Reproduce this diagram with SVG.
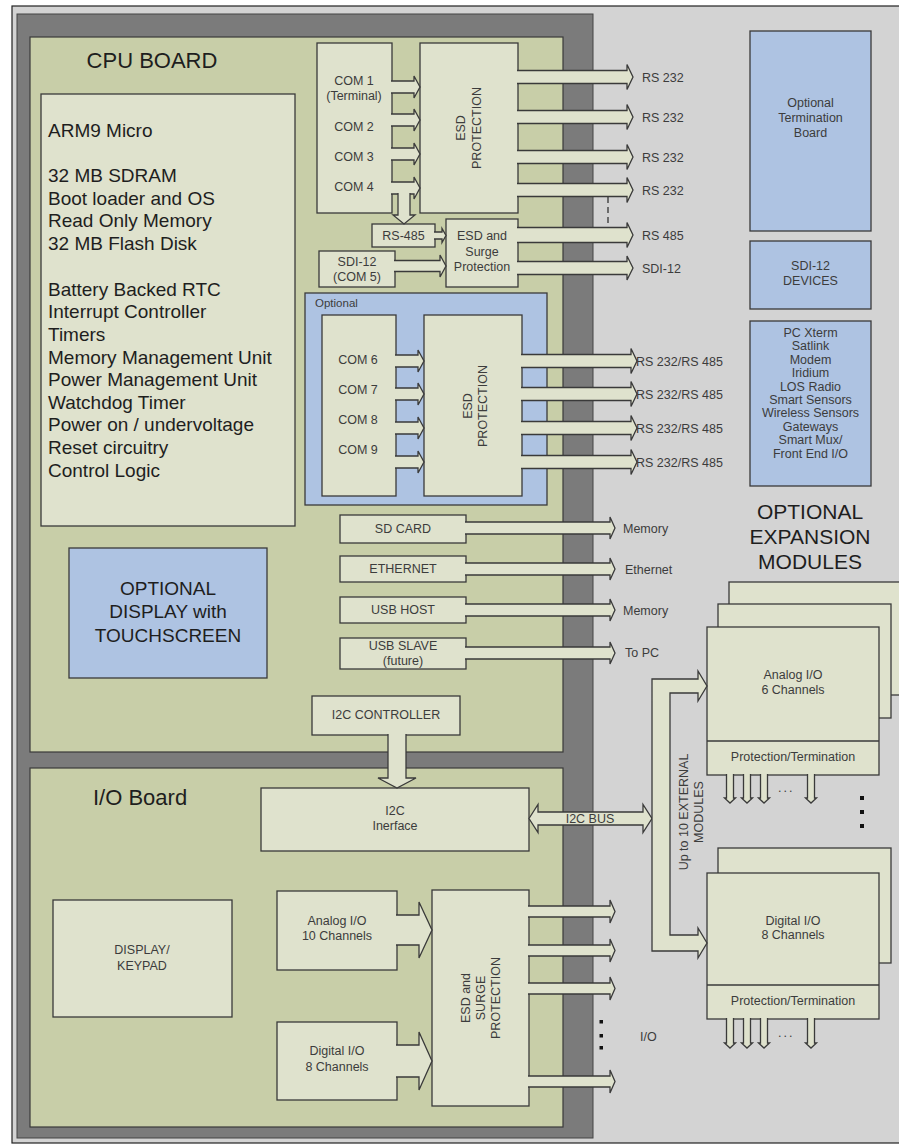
<svg xmlns="http://www.w3.org/2000/svg" width="899" height="1144" viewBox="0 0 899 1144">
<style>
.board{fill:#c8cea8;stroke:#3a3a3a;stroke-width:1.2}
.box{fill:#dfe2cd;stroke:#3a3a3a;stroke-width:1.3}
.blue{fill:#aec3e2;stroke:#3a3a3a;stroke-width:1.3}
.arr{fill:#dfe2cd;stroke:#3a3a3a;stroke-width:1.3;stroke-linejoin:miter}
.t{font-family:"Liberation Sans",Arial,sans-serif;fill:#3c3c3c;font-size:12.5px}
.m{text-anchor:middle}
.big{font-size:19px;fill:#1e1e1e}
.h{font-size:22px;fill:#1e1e1e}
.dot{fill:#111}
</style>
<rect x="0" y="0" width="899" height="1144" fill="#ffffff"/>
<rect x="12" y="6" width="900" height="1137" fill="#d3d3d3" stroke="#222" stroke-width="1.2"/>
<rect x="17" y="14" width="576" height="1124" fill="#7b7b7b" stroke="#444" stroke-width="1"/>

<g id="cpu-board">
<rect class="board" x="30" y="37" width="533" height="715"/>
<text class="t h m" x="152" y="68">CPU BOARD</text>
</g>
<g id="io-board">
<rect class="board" x="30" y="768" width="533" height="359"/>
<text class="t h" x="93" y="805">I/O Board</text>
</g>

<g id="cpu-spec">
<rect class="box" x="41" y="94" width="254" height="432"/>
<text class="t big" x="48" y="137">ARM9 Micro</text>
<text class="t big" x="48" y="182">32 MB SDRAM</text>
<text class="t big" x="48" y="205">Boot loader and OS</text>
<text class="t big" x="48" y="227">Read Only Memory</text>
<text class="t big" x="48" y="250">32 MB Flash Disk</text>
<text class="t big" x="48" y="296">Battery Backed RTC</text>
<text class="t big" x="48" y="318">Interrupt Controller</text>
<text class="t big" x="48" y="341">Timers</text>
<text class="t big" x="48" y="364">Memory Management Unit</text>
<text class="t big" x="48" y="386">Power Management Unit</text>
<text class="t big" x="48" y="409">Watchdog Timer</text>
<text class="t big" x="48" y="431">Power on / undervoltage</text>
<text class="t big" x="48" y="454">Reset circuitry</text>
<text class="t big" x="48" y="477">Control Logic</text>
</g>

<g id="optional-display">
<rect class="blue" x="69" y="548" width="198" height="130"/>
<text class="t big m" x="168" y="595">OPTIONAL</text>
<text class="t big m" x="168" y="618">DISPLAY with</text>
<text class="t big m" x="168" y="642">TOUCHSCREEN</text>
</g>

<g id="com1-4">
<rect class="box" x="317" y="43" width="75" height="170"/>
<text class="t m" x="354" y="85">COM 1</text>
<text class="t m" x="354" y="100">(Terminal)</text>
<text class="t m" x="354" y="131">COM 2</text>
<text class="t m" x="354" y="161">COM 3</text>
<text class="t m" x="354" y="191">COM 4</text>
</g>
<g id="esd1">
<rect class="box" x="420" y="43" width="98" height="170"/>
<text class="t m" transform="translate(465,128) rotate(-90)"><tspan x="0" y="0">ESD</tspan><tspan x="0" y="16">PROTECTION</tspan></text>
</g>
<g id="rs485">
<rect class="box" x="372" y="224" width="63" height="23"/>
<text class="t m" x="403.5" y="240">RS-485</text>
</g>
<g id="esd-surge1">
<rect class="box" x="446" y="219" width="72" height="68"/>
<text class="t m" x="482" y="240">ESD and</text>
<text class="t m" x="482" y="256">Surge</text>
<text class="t m" x="482" y="271">Protection</text>
</g>
<g id="sdi12">
<rect class="box" x="319" y="251" width="76" height="36"/>
<text class="t m" x="357" y="265.5">SDI-12</text>
<text class="t m" x="357" y="281">(COM 5)</text>
</g>

<g id="optional-com">
<rect class="blue" x="305" y="293" width="242" height="212"/>
<text class="t" x="315" y="307" style="font-size:11.5px">Optional</text>
</g>
<g id="com6-9">
<rect class="box" x="322" y="315" width="74" height="181"/>
<text class="t m" x="358" y="364">COM 6</text>
<text class="t m" x="358" y="394">COM 7</text>
<text class="t m" x="358" y="424">COM 8</text>
<text class="t m" x="358" y="454">COM 9</text>
</g>
<g id="esd2">
<rect class="box" x="424" y="315" width="98" height="181"/>
<text class="t m" transform="translate(472,406) rotate(-90)"><tspan x="0" y="0">ESD</tspan><tspan x="0" y="15">PROTECTION</tspan></text>
</g>

<g id="sdcard"><rect class="box" x="340" y="515" width="126" height="28"/><text class="t m" x="403" y="533">SD CARD</text></g>
<g id="ethernet"><rect class="box" x="340" y="556" width="126" height="26"/><text class="t m" x="403" y="573">ETHERNET</text></g>
<g id="usbhost"><rect class="box" x="340" y="597" width="126" height="26"/><text class="t m" x="403" y="614">USB HOST</text></g>
<g id="usbslave"><rect class="box" x="340" y="638" width="126" height="31"/><text class="t m" x="403" y="650">USB SLAVE</text><text class="t m" x="403" y="665">(future)</text></g>

<g id="i2c-controller"><rect class="box" x="312" y="696" width="148" height="39"/><text class="t m" x="386" y="719">I2C CONTROLLER</text></g>
<g id="i2c-interface"><rect class="box" x="261" y="788" width="268" height="63"/><text class="t m" x="395" y="815">I2C</text><text class="t m" x="395" y="830">Inerface</text></g>

<g id="display-keypad"><rect class="box" x="53" y="900" width="179" height="117"/><text class="t m" x="142" y="954">DISPLAY/</text><text class="t m" x="142" y="970">KEYPAD</text></g>
<g id="analog-io"><rect class="box" x="277" y="891" width="120" height="79"/><text class="t m" x="337" y="925">Analog I/O</text><text class="t m" x="337" y="940">10 Channels</text></g>
<g id="digital-io"><rect class="box" x="277" y="1022" width="120" height="78"/><text class="t m" x="337" y="1055">Digital I/O</text><text class="t m" x="337" y="1071">8 Channels</text></g>
<g id="esd-surge2">
<rect class="box" x="432" y="890" width="97" height="216"/>
<text class="t m" transform="translate(470,998) rotate(-90)"><tspan x="0" y="0">ESD and</tspan><tspan x="0" y="15">SURGE</tspan><tspan x="0" y="30">PROTECTION</tspan></text>
</g>

<g id="termination-board"><rect class="blue" x="750" y="31" width="121" height="200"/><text class="t m" x="810.5" y="107">Optional</text><text class="t m" x="810.5" y="122">Termination</text><text class="t m" x="810.5" y="137">Board</text></g>
<g id="sdi12-devices"><rect class="blue" x="750" y="241" width="121" height="68"/><text class="t m" x="810.5" y="270">SDI-12</text><text class="t m" x="810.5" y="285">DEVICES</text></g>
<g id="devices-list"><rect class="blue" x="750" y="321" width="121" height="165"/>
<text class="t m" x="810.5" y="337">PC Xterm</text>
<text class="t m" x="810.5" y="350.4">Satlink</text>
<text class="t m" x="810.5" y="363.8">Modem</text>
<text class="t m" x="810.5" y="377.2">Iridium</text>
<text class="t m" x="810.5" y="390.6">LOS Radio</text>
<text class="t m" x="810.5" y="404">Smart Sensors</text>
<text class="t m" x="810.5" y="417.4">Wireless Sensors</text>
<text class="t m" x="810.5" y="430.8">Gateways</text>
<text class="t m" x="810.5" y="444.2">Smart Mux/</text>
<text class="t m" x="810.5" y="457.6">Front End I/O</text>
</g>
<g id="expansion-title">
<text class="t m" x="810" y="519" style="font-size:21px;fill:#1e1e1e">OPTIONAL</text>
<text class="t m" x="810" y="544" style="font-size:21px;fill:#1e1e1e">EXPANSION</text>
<text class="t m" x="810" y="569" style="font-size:21px;fill:#1e1e1e">MODULES</text>
</g>

<g id="analog-module">
<rect class="box" x="729" y="582" width="190" height="113"/>
<rect class="box" x="718" y="604" width="173" height="114"/>
<rect class="box" x="707" y="627" width="172" height="148"/>
<line x1="707" y1="741" x2="879" y2="741" stroke="#3a3a3a" stroke-width="1.3"/>
<text class="t m" x="793" y="679">Analog I/O</text>
<text class="t m" x="793" y="694">6 Channels</text>
<text class="t m" x="793" y="761">Protection/Termination</text>
</g>
<g id="digital-module">
<rect class="box" x="718" y="848" width="173" height="115"/>
<rect class="box" x="707" y="873" width="172" height="146"/>
<line x1="707" y1="985" x2="879" y2="985" stroke="#3a3a3a" stroke-width="1.3"/>
<text class="t m" x="793" y="925">Digital I/O</text>
<text class="t m" x="793" y="939">8 Channels</text>
<text class="t m" x="793" y="1005">Protection/Termination</text>
</g>

<g id="connectors">
<!-- COM 1-4 to ESD -->
<path class="arr" d="M391,81 H414 V76 L420,87 L414,98 V93 H391"/>
<path class="arr" d="M391,114 H414 V109 L420,120 L414,131 V126 H391"/>
<path class="arr" d="M391,148 H414 V143 L420,154 L414,165 V160 H391"/>
<path class="arr" d="M391,182 H414 V177 L420,188 L414,199 V194 H391"/>
<path class="arr" d="M398,193 V215 H393 L404,224 L415,215 H410 V193"/>
<!-- ESD outputs -->
<path class="arr" d="M517,70.5 H627 V64.5 L633,77 L627,89.5 V83.5 H517"/>
<path class="arr" d="M517,110.5 H627 V104.5 L633,117 L627,129.5 V123.5 H517"/>
<path class="arr" d="M517,150.5 H627 V144.5 L633,157 L627,169.5 V163.5 H517"/>
<path class="arr" d="M517,183.5 H627 V177.5 L633,190 L627,202.5 V196.5 H517"/>
<line x1="608" y1="197" x2="608" y2="226" stroke="#333" stroke-width="1.3" stroke-dasharray="6 4"/>
<!-- RS-485 / SDI -->
<path class="arr" d="M434,232 H442 V228.5 L446,235.5 L442,242.5 V239 H434"/>
<path class="arr" d="M394,260.5 H440 V255 L446,266 L440,277 V271.5 H394"/>
<path class="arr" d="M517,227.5 H627 V222.5 L633,235 L627,247.5 V242.5 H517"/>
<path class="arr" d="M517,261.5 H627 V256 L633,268 L627,280 V274.5 H517"/>
<!-- COM 6-9 -->
<path class="arr" d="M395,355 H418 V350 L424,361 L418,372 V367 H395"/>
<path class="arr" d="M395,388 H418 V383 L424,394 L418,405 V400 H395"/>
<path class="arr" d="M395,422 H418 V417 L424,428 L418,439 V434 H395"/>
<path class="arr" d="M395,456 H418 V451 L424,462 L418,473 V468 H395"/>
<path class="arr" d="M521,354.5 H631 V348.5 L637,361 L631,373.5 V367.5 H521"/>
<path class="arr" d="M521,387.5 H631 V381.5 L637,394 L631,406.5 V400.5 H521"/>
<path class="arr" d="M521,421.5 H631 V415.5 L637,428 L631,440.5 V434.5 H521"/>
<path class="arr" d="M521,455.5 H631 V449.5 L637,462 L631,474.5 V468.5 H521"/>
<!-- SD/Ethernet/USB -->
<path class="arr" d="M465,522 H610 V517 L615,528 L610,539 V534 H465"/>
<path class="arr" d="M465,563 H610 V558 L615,569 L610,580 V575 H465"/>
<path class="arr" d="M465,604 H610 V599 L615,610 L610,621 V616 H465"/>
<path class="arr" d="M465,647 H610 V642 L615,653 L610,664 V659 H465"/>
<!-- I2C -->
<path class="arr" d="M388,734 V778 H378 L397,788 L416,778 H406 V734"/>
<path class="arr" d="M529,818.5 L538,804.5 V812 H643 V804.5 L652,818.5 L643,832.5 V825 H538 V832.5 Z"/>
<path class="arr" d="M698,671 L707,686 L698,701 V693 H670 V935 H698 V928 L707,943 L698,958 V951 H652 V679 H698 Z"/>
<!-- IO board -->
<path class="arr" d="M396,915 H419 V902 L432,930 L419,958 V945 H396"/>
<path class="arr" d="M396,1045 H419 V1032 L432,1061 L419,1090 V1077 H396"/>
<path class="arr" d="M528,906 H610 V900 L615,911.5 L610,923 V917 H528"/>
<path class="arr" d="M528,945 H610 V939 L615,950.5 L610,962 V956 H528"/>
<path class="arr" d="M528,983 H610 V977 L615,988.5 L610,1000 V994 H528"/>
<path class="arr" d="M528,1076 H610 V1070 L615,1081.5 L610,1093 V1087 H528"/>
<rect class="dot" x="599.5" y="1020" width="3.5" height="3.5"/>
<rect class="dot" x="599.5" y="1034" width="3.5" height="3.5"/>
<rect class="dot" x="599.5" y="1046" width="3.5" height="3.5"/>
<!-- module outputs -->
<path class="arr" d="M726.5,774 V798 H724.5 L730,803 L735.5,798 H733.5 V774"/>
<path class="arr" d="M743.5,774 V798 H741.5 L747,803 L752.5,798 H750.5 V774"/>
<path class="arr" d="M760.5,774 V798 H758.5 L764,803 L769.5,798 H767.5 V774"/>
<path class="arr" d="M807.5,774 V798 H805.5 L811,803 L816.5,798 H814.5 V774"/>
<path class="arr" d="M726.5,1018 V1043 H724.5 L730,1048 L735.5,1043 H733.5 V1018"/>
<path class="arr" d="M743.5,1018 V1043 H741.5 L747,1048 L752.5,1043 H750.5 V1018"/>
<path class="arr" d="M760.5,1018 V1043 H758.5 L764,1048 L769.5,1043 H767.5 V1018"/>
<path class="arr" d="M807.5,1018 V1043 H805.5 L811,1048 L816.5,1043 H814.5 V1018"/>
<rect class="dot" x="860" y="796" width="4" height="4"/>
<rect class="dot" x="860" y="810" width="4" height="4"/>
<rect class="dot" x="860" y="824" width="4" height="4"/>
</g>

<g id="labels">
<text class="t" x="642" y="81.5">RS 232</text>
<text class="t" x="642" y="121.5">RS 232</text>
<text class="t" x="642" y="161.5">RS 232</text>
<text class="t" x="642" y="194.5">RS 232</text>
<text class="t" x="642" y="239.5">RS 485</text>
<text class="t" x="642" y="272.5">SDI-12</text>
<text class="t" x="636" y="365.5">RS 232/RS 485</text>
<text class="t" x="636" y="398.5">RS 232/RS 485</text>
<text class="t" x="636" y="432.5">RS 232/RS 485</text>
<text class="t" x="636" y="466.5">RS 232/RS 485</text>
<text class="t" x="623" y="532.5">Memory</text>
<text class="t" x="625" y="573.5">Ethernet</text>
<text class="t" x="623" y="614.5">Memory</text>
<text class="t" x="625" y="657">To PC</text>
<text class="t m" x="590" y="822.5">I2C  BUS</text>
<text class="t m" transform="translate(688,812) rotate(-90)"><tspan x="0" y="0">Up to 10 EXTERNAL</tspan><tspan x="0" y="15">MODULES</tspan></text>
<text class="t" x="640" y="1041">I/O</text>
<text class="t" x="778" y="792" style="letter-spacing:2px">...</text>
<text class="t" x="778" y="1037" style="letter-spacing:2px">...</text>
</g>
</svg>
